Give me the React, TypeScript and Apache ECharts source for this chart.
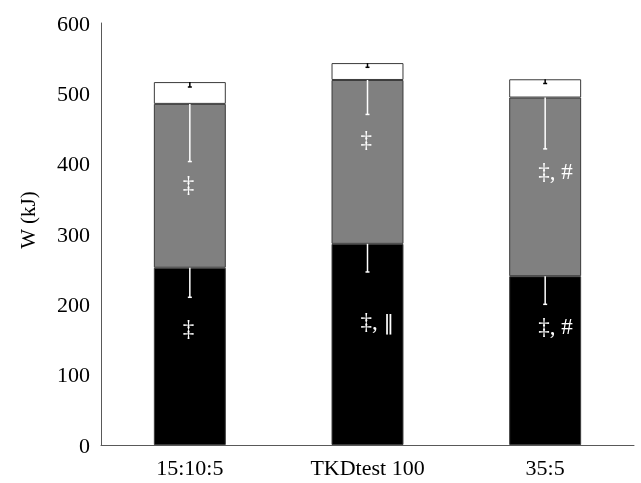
import React, { useEffect, useRef } from "react";
import * as echarts from "echarts";

const categories = ["15:10:5", "TKDtest 100", "35:5"];
const blackValues = [252, 286, 240];
const grayValues = [233, 233, 254];
const whiteValues = [31, 24, 26];
const blackErr = [42, 40, 40];
const grayErr = [82, 49, 73];
const whiteErr = [7, 6, 6];
const grayNotes = ["‡", "‡", "‡, #"];
const grayNoteAt = [370, 434, 389];
const blackNotes = ["‡", "‡, ‖", "‡, #"];
const blackNoteAt = [166, 175, 168];
const yTicks = [0, 100, 200, 300, 400, 500, 600];

const FONT = '"Liberation Serif", "Times New Roman", serif';

function toRich(txt: string): string {
  return txt.replace(/‖/g, "{bar|‖}");
}

export default function App() {
  const ref = useRef<HTMLDivElement>(null);
  useEffect(() => {
    if (!ref.current) return;
    const chart = echarts.init(ref.current, null, { renderer: "svg" });

    const errData: any[] = [];
    categories.forEach((_, i) => {
      const bTop = blackValues[i];
      const gTop = bTop + grayValues[i];
      const wTop = gTop + whiteValues[i];
      errData.push([i, bTop, blackErr[i], "#ffffff"]);
      errData.push([i, gTop, grayErr[i], "#ffffff"]);
      errData.push([i, wTop, whiteErr[i], "#000000"]);
    });

    const noteData: any[] = [];
    categories.forEach((_, i) => {
      noteData.push([i, grayNoteAt[i], grayNotes[i]]);
      noteData.push([i, blackNoteAt[i], blackNotes[i]]);
    });

    const border = { borderColor: "#3a3a3a", borderWidth: 1 };

    chart.setOption({
      animation: false,
      grid: { left: 101, right: 7, top: 23, bottom: 38 },
      xAxis: {
        type: "category",
        data: categories,
        axisLine: { lineStyle: { color: "#595959", width: 1 } },
        axisTick: { show: false },
        axisLabel: { color: "#000", fontFamily: FONT, fontSize: 22, margin: 11 },
      },
      yAxis: {
        type: "value",
        min: yTicks[0],
        max: yTicks[yTicks.length - 1],
        interval: 100,
        axisLine: { show: true, lineStyle: { color: "#595959", width: 1 } },
        axisTick: { show: false },
        splitLine: { show: false },
        axisLabel: { color: "#000", fontFamily: FONT, fontSize: 22, margin: 11 },
      },
      graphic: [
        {
          type: "text",
          x: 28,
          y: 220,
          rotation: Math.PI / 2,
          style: {
            text: "W (kJ)",
            fontFamily: FONT,
            fontSize: 21,
            fill: "#000",
            align: "center",
            verticalAlign: "middle",
          },
        },
      ],
      series: [
        {
          type: "bar",
          stack: "w",
          data: blackValues,
          barWidth: "40.5%",
          itemStyle: { color: "#000000", ...border },
        },
        {
          type: "bar",
          stack: "w",
          data: grayValues,
          barWidth: "40.5%",
          itemStyle: { color: "#808080", ...border },
        },
        {
          type: "bar",
          stack: "w",
          data: whiteValues,
          barWidth: "40.5%",
          itemStyle: { color: "#ffffff", ...border },
        },
        {
          type: "custom",
          data: errData,
          encode: { x: 0, y: 1 },
          z: 10,
          renderItem: (params: any, api: any) => {
            const x = api.value(0);
            const top = api.value(1);
            const err = api.value(2);
            const color = errData[params.dataIndex][3];
            const p1 = api.coord([x, top]);
            const p2 = api.coord([x, top - err]);
            const cap = 2;
            return {
              type: "group",
              children: [
                {
                  type: "line",
                  shape: { x1: p1[0], y1: p1[1], x2: p2[0], y2: p2[1] },
                  style: { stroke: color, lineWidth: 1.5 },
                },
                {
                  type: "line",
                  shape: { x1: p2[0] - cap, y1: p2[1], x2: p2[0] + cap, y2: p2[1] },
                  style: { stroke: color, lineWidth: 1.5 },
                },
              ],
            };
          },
        },
        {
          type: "custom",
          data: noteData,
          encode: { x: 0, y: 1 },
          z: 11,
          renderItem: (params: any, api: any) => {
            const p = api.coord([api.value(0), api.value(1)]);
            const txt = noteData[params.dataIndex][2];
            return {
              type: "text",
              x: p[0] - 7,
              y: p[1],
              style: {
                text: toRich(txt),
                fontFamily: FONT,
                fontSize: 23,
                fill: "#ffffff",
                align: "left",
                verticalAlign: "middle",
                rich: {
                  bar: {
                    fontFamily: '"DejaVu Serif", serif',
                    fontSize: 21,
                    fill: "#ffffff",
                  },
                },
              },
            };
          },
        },
      ],
    });
    return () => chart.dispose();
  }, []);
  return (
    <div
      ref={ref}
      style={{ position: "fixed", left: 0, top: 0, width: 641, height: 483 }}
    />
  );
}
